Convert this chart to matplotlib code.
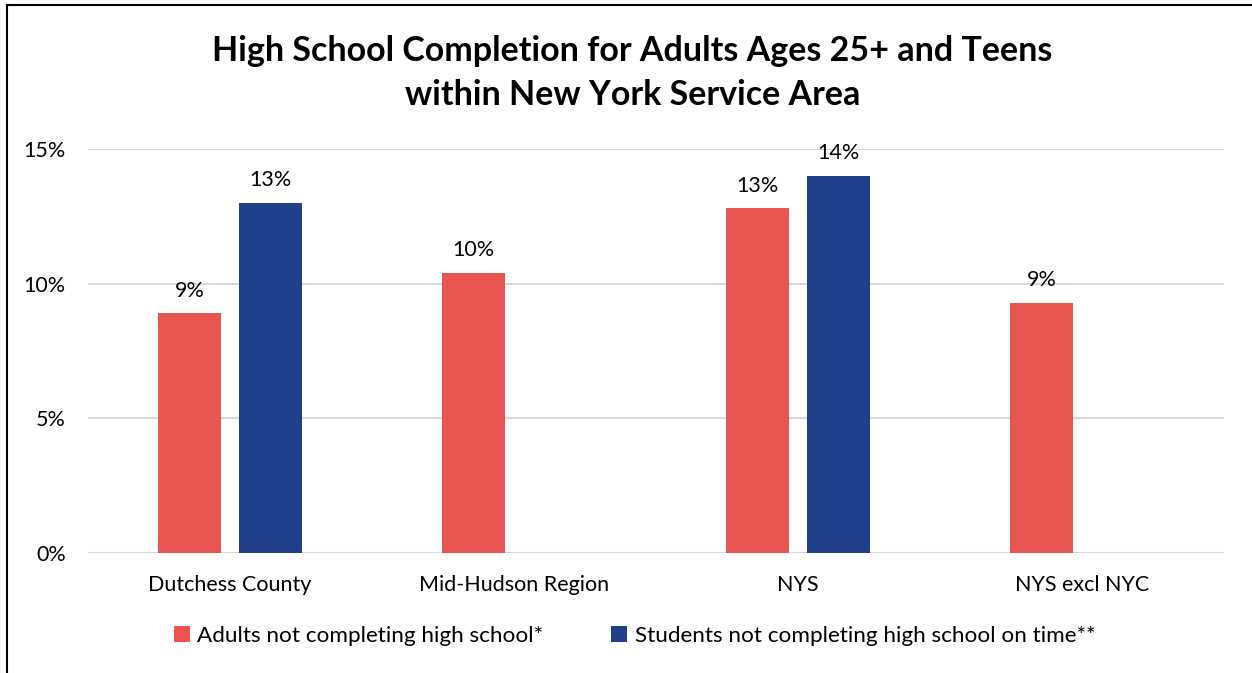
import numpy as np
import matplotlib.pyplot as plt
from matplotlib.lines import Line2D

# Datos
categorias = ["Dutchess County", "Mid-Hudson Region", "NYS", "NYS excl NYC"]
adultos = [8.9, 10.4, 12.8, 9.3]
estudiantes = [13.0, np.nan, 14.0, np.nan]
etiquetas_adultos = ["9%", "10%", "13%", "9%"]
etiquetas_estudiantes = ["13%", "", "14%", ""]
yticks = [0, 5, 10, 15]
ytick_labels = ["0%", "5%", "10%", "15%"]

rojo = "#E95651"
azul = "#1F408A"

plt.rcParams['font.family'] = ['Lato', 'DejaVu Sans']

fig = plt.figure(figsize=(12.52, 6.73), dpi=100)
ax = fig.add_axes([88/1252, 120/673, 1136/1252, 404/673])

x = np.arange(len(categorias))
w = 0.222
off = 0.1426
b1 = ax.bar(x - off, adultos, w, color=rojo, label="Adults not completing high school*", zorder=3)
b2 = ax.bar(x + off, estudiantes, w, color=azul, label="Students not completing high school on time**", zorder=3)

# Etiquetas de datos
for i in range(len(categorias)):
    ax.annotate(etiquetas_adultos[i], (x[i] - off, adultos[i]), xytext=(0, 9),
                textcoords="offset points", ha="center", va="bottom", fontsize=15.5)
    if etiquetas_estudiantes[i]:
        ax.annotate(etiquetas_estudiantes[i], (x[i] + off, estudiantes[i]), xytext=(0, 9),
                    textcoords="offset points", ha="center", va="bottom", fontsize=15.5)

ax.set_xlim(-0.5, len(categorias) - 0.5)
ax.set_ylim(0, 15)
ax.set_yticks(yticks)
ax.set_yticklabels(ytick_labels, fontsize=15.5)
ax.set_xticks(x)
ax.set_xticklabels(categorias, fontsize=15.5)
ax.tick_params(axis="y", length=0, pad=16)
ax.tick_params(axis="x", length=0, pad=16)
ax.grid(axis="y", color="#D9D9D9", linewidth=1.5, zorder=0)
for s in ax.spines.values():
    s.set_visible(False)

fig.suptitle("High School Completion for Adults Ages 25+ and Teens\nwithin New York Service Area",
             x=0.505, y=1 - 35/673, va="top", fontsize=24.5, fontweight="bold", linespacing=1.45)

fig.legend(handles=[b1, b2], loc="center", bbox_to_anchor=(634.5/1252, 1 - 636/673), ncol=2,
           frameon=False, fontsize=16.2, handlelength=0.7, handleheight=0.7,
           handletextpad=0.35, columnspacing=3.0)

# Marco
fig.add_artist(Line2D([7/1252, 7/1252], [0, 1 - 5/673], color="black", linewidth=1.5, transform=fig.transFigure))
fig.add_artist(Line2D([7/1252, 1], [1 - 5/673, 1 - 5/673], color="black", linewidth=1.5, transform=fig.transFigure))

fig.savefig("out.png", dpi=100)
